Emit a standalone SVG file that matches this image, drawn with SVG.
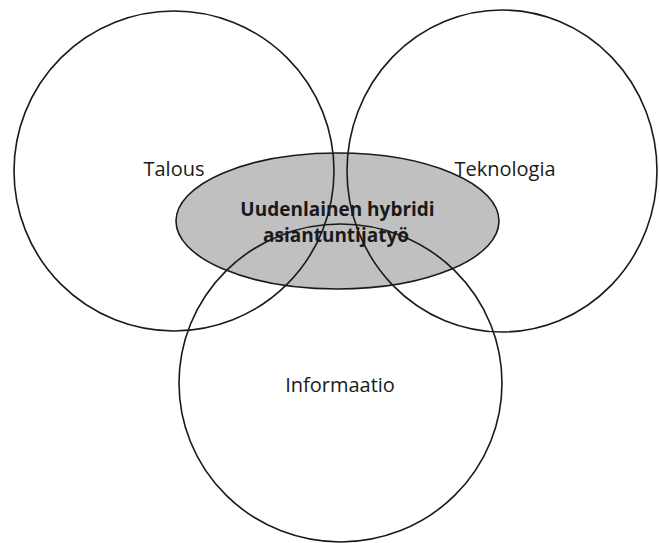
<svg xmlns="http://www.w3.org/2000/svg" width="659" height="543" viewBox="0 0 659 543">
  <style>
    .ring { fill: none; stroke: #1a1a1a; stroke-width: 1.6; }
    .core { fill: #c0c0c0; stroke: #1a1a1a; stroke-width: 1.6; }
    .lbl { font-family: "Open Sans", "Noto Sans", "Liberation Sans", sans-serif; font-size: 20px; fill: #1a1a1a; text-anchor: middle; }
    .core-lbl { font-family: "Open Sans", "Noto Sans", "Liberation Sans", sans-serif; font-size: 19px; font-weight: bold; fill: #1a1a1a; text-anchor: middle; }
  </style>
  <rect width="659" height="543" fill="#ffffff"/>
  <g id="hybridi-shape">
    <ellipse class="core" cx="337.5" cy="221" rx="161.5" ry="68"/>
  </g>
  <g id="talous">
    <circle class="ring" cx="174" cy="171" r="160"/>
    <text class="lbl" x="174" y="176">Talous</text>
  </g>
  <g id="teknologia">
    <ellipse class="ring" cx="502" cy="171" rx="155" ry="161"/>
    <text class="lbl" x="505" y="176">Teknologia</text>
  </g>
  <g id="informaatio">
    <ellipse class="ring" cx="340.5" cy="383" rx="161.5" ry="159"/>
    <text class="lbl" x="340" y="392">Informaatio</text>
  </g>
  <g id="hybridi">
    <text class="core-lbl" x="337.5" y="216">Uudenlainen hybridi</text>
    <text class="core-lbl" x="336" y="242">asiantuntijatyö</text>
  </g>
  <g id="connectors"/>
</svg>
